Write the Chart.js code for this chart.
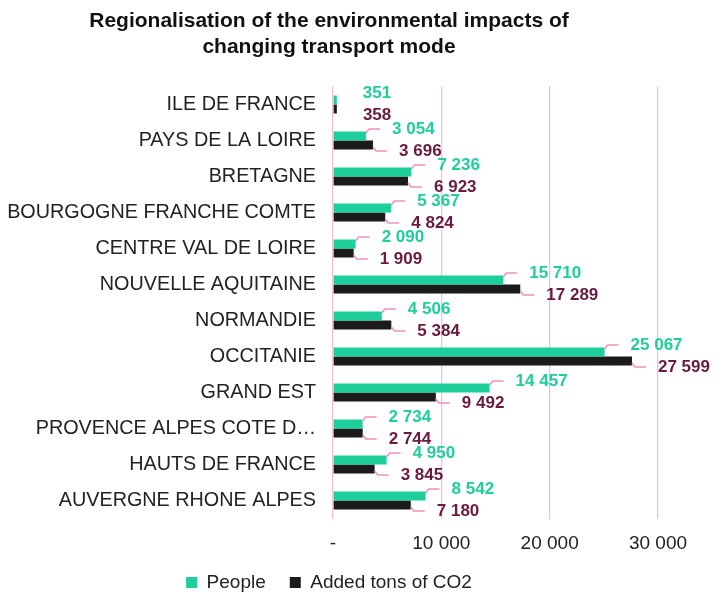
<!DOCTYPE html>
<html>
<head>
<meta charset="utf-8">
<script src="https://cdn.jsdelivr.net/npm/chart.js@4.4.1/dist/chart.umd.min.js"></script>
<style>
  html, body { margin: 0; padding: 0; background: #fff; }
  #wrap { width: 726px; height: 597px; }
</style>
</head>
<body>
<div id="wrap"><canvas id="chart" width="726" height="597"></canvas></div>
<script>
// --- Data ---
const regions = [
  "ILE DE FRANCE",
  "PAYS DE LA LOIRE",
  "BRETAGNE",
  "BOURGOGNE FRANCHE COMTE",
  "CENTRE VAL DE LOIRE",
  "NOUVELLE AQUITAINE",
  "NORMANDIE",
  "OCCITANIE",
  "GRAND EST",
  "PROVENCE ALPES COTE D\u2026",
  "HAUTS DE FRANCE",
  "AUVERGNE RHONE ALPES"
];
const people = [351, 3054, 7236, 5367, 2090, 15710, 4506, 25067, 14457, 2734, 4950, 8542];
const addedCO2 = [358, 3696, 6923, 4824, 1909, 17289, 5384, 27599, 9492, 2744, 3845, 7180];
const xTicks = [0, 10000, 20000, 30000];

const GREEN = '#1fcf9b';
const DARK = '#1b1b1b';
const MAROON = '#6a1a3e';
const PINK = '#f5c0d5';
const LEADER = '#f191be';
const FONT = "'Liberation Sans', Arial, sans-serif";

function fmt(v) {
  if (v === 0) return '-';
  return String(Math.round(v)).replace(/\B(?=(\d{3})+(?!\d))/g, ' ');
}

// --- Value labels with leader lines ---
const valueLabels = {
  id: 'valueLabels',
  afterDatasetsDraw(chart) {
    const ctx = chart.ctx;
    ctx.save();
    ctx.font = 'bold 17px ' + FONT;
    ctx.textBaseline = 'middle';
    ctx.textAlign = 'left';
    chart.data.datasets.forEach((ds, di) => {
      const meta = chart.getDatasetMeta(di);
      meta.data.forEach((bar, i) => {
        const v = ds.data[i];
        const end = bar.x;
        const cy = bar.y;
        const up = di === 0;
        const ly = up ? cy - 7 : cy + 6;
        if (v >= 1000) {
          ctx.strokeStyle = LEADER;
          ctx.lineWidth = 1.5;
          ctx.beginPath();
          ctx.moveTo(end, up ? cy - 3 : cy + 2);
          ctx.lineTo(end + 3, ly);
          ctx.lineTo(end + 14, ly);
          ctx.stroke();
        }
        ctx.fillStyle = up ? GREEN : MAROON;
        ctx.fillText(fmt(v), end + 26, ly);
      });
    });
    ctx.restore();
  }
};

new Chart(document.getElementById('chart'), {
  type: 'bar',
  data: {
    labels: regions,
    datasets: [
      { label: 'People', data: people, backgroundColor: GREEN },
      { label: 'Added tons of CO2', data: addedCO2, backgroundColor: DARK }
    ]
  },
  options: {
    indexAxis: 'y',
    responsive: false,
    animation: false,
    devicePixelRatio: 1,
    categoryPercentage: 0.5,
    barPercentage: 1.0,
    layout: { padding: { left: 0, right: 68, top: 0, bottom: -5 } },
    plugins: {
      title: {
        display: true,
        text: ['Regionalisation of the environmental impacts of', 'changing transport mode'],
        color: '#111',
        font: { family: FONT, size: 21, weight: 'bold', lineHeight: 1.25 },
        padding: { top: 8, bottom: 26 }
      },
      legend: {
        position: 'bottom',
        labels: {
          color: '#222',
          font: { family: FONT, size: 19 },
          boxWidth: 11,
          boxHeight: 11,
          padding: 24
        }
      },
      tooltip: { enabled: false }
    },
    scales: {
      x: {
        min: 0,
        max: 30000,
        afterBuildTicks: (scale) => { scale.ticks = xTicks.map(v => ({ value: v })); },
        afterFit: (scale) => { scale.height = 30.5; },
        ticks: {
          color: '#222',
          font: { family: FONT, size: 19 },
          padding: 14,
          callback: (v) => fmt(v)
        },
        grid: { color: PINK, lineWidth: 1.3, drawTicks: false },
        border: { display: false }
      },
      y: {
        ticks: {
          color: '#222',
          font: { family: FONT, size: 19.8 },
          padding: 9
        },
        afterFit: (scale) => { scale.width = 333; },
        grid: { display: false },
        border: { display: false }
      }
    }
  },
  plugins: [valueLabels]
});
</script>
</body>
</html>
